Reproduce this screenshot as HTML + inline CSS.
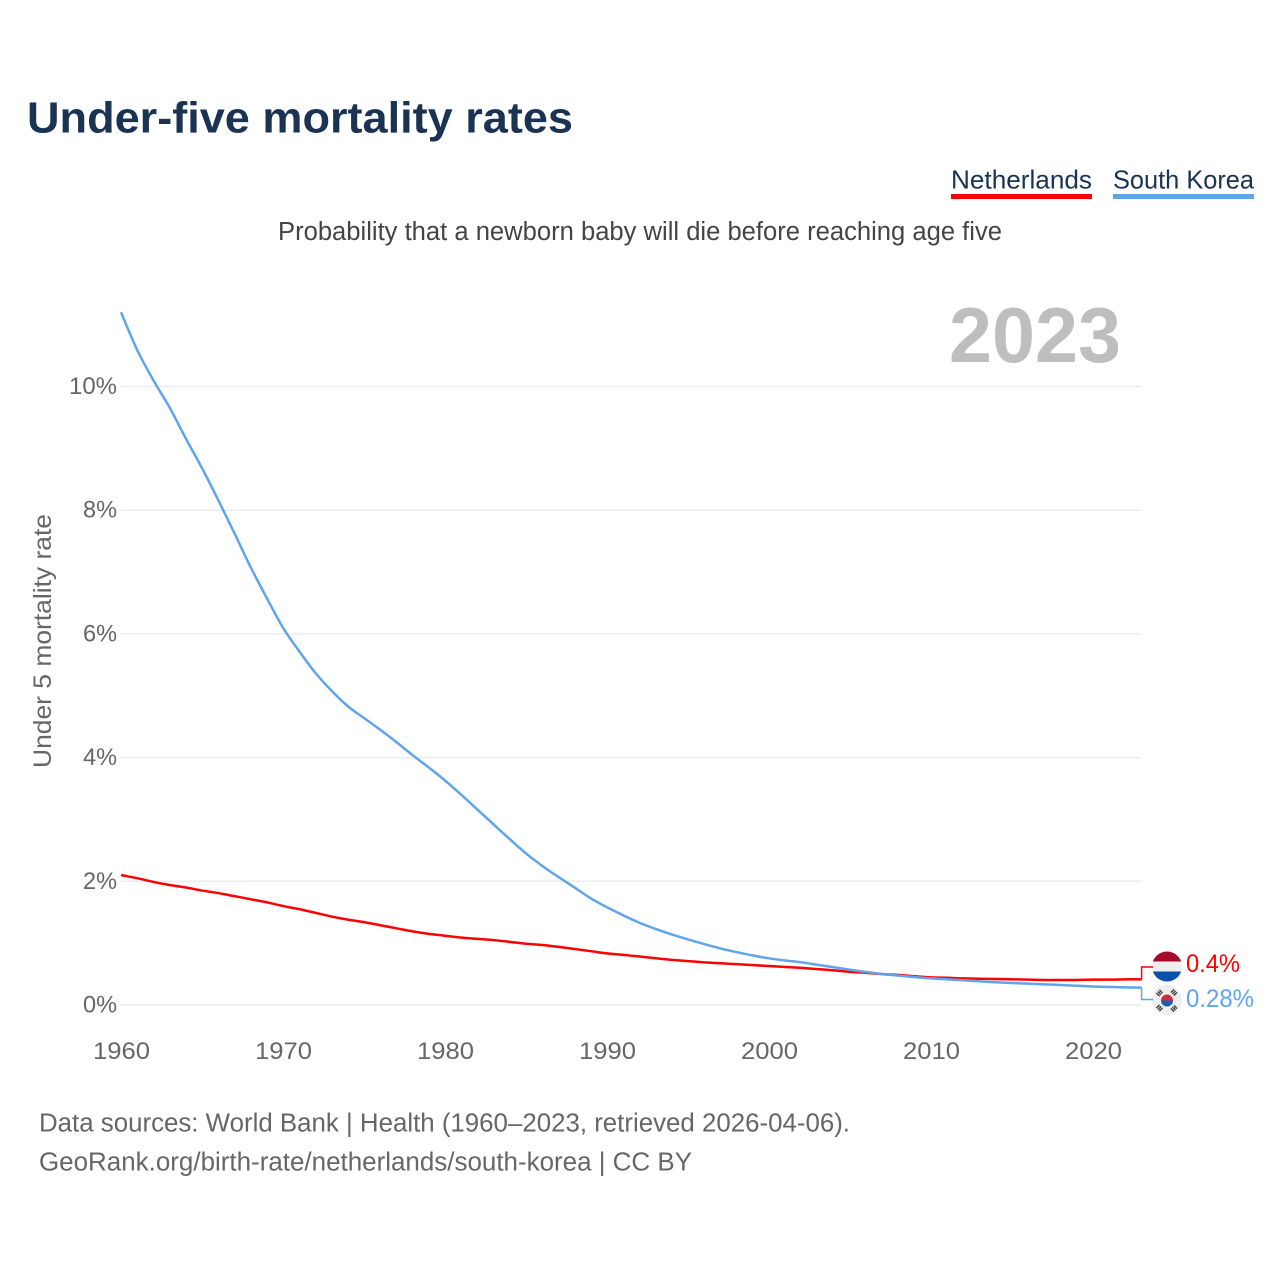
<!DOCTYPE html>
<html lang="en">
<head>
<meta charset="utf-8">
<title>Under-five mortality rates</title>
<style>
html,body{margin:0;padding:0;background:#fff;width:1280px;height:1280px;overflow:hidden}
svg{display:block;font-family:"Liberation Sans",sans-serif}
</style>
</head>
<body>
<svg id="chart" xmlns="http://www.w3.org/2000/svg" width="1280" height="1280" viewBox="0 0 1280 1280">
  <defs>
    <clipPath id="clip-nl"><circle cx="1167" cy="966.5" r="15"/></clipPath>
    <clipPath id="clip-kr"><circle cx="1167" cy="1000" r="15"/></clipPath>
  </defs>
  <rect x="0" y="0" width="1280" height="1280" fill="#fff"/>
  <text x="27" y="132.5" font-size="44" font-weight="700" fill="#1a3353" textLength="546" lengthAdjust="spacingAndGlyphs">Under-five mortality rates</text>

  <g>
    <g>
      <text x="951" y="188.5" font-size="26" fill="#1a3353" textLength="141" lengthAdjust="spacingAndGlyphs">Netherlands</text>
      <rect x="951" y="194" width="141" height="5" fill="#ff0000"/>
    </g>
    <g>
      <text x="1113" y="188.5" font-size="26" fill="#1a3353" textLength="141" lengthAdjust="spacingAndGlyphs">South Korea</text>
      <rect x="1113" y="194" width="141" height="5" fill="#60a5ec"/>
    </g>
  </g>

  <text x="278" y="240" font-size="25.5" fill="#444" textLength="724" lengthAdjust="spacingAndGlyphs">Probability that a newborn baby will die before reaching age five</text>
  <text x="949" y="362" font-size="78" font-weight="700" fill="#bebebe" textLength="172" lengthAdjust="spacingAndGlyphs">2023</text>
  <text transform="translate(51,768) rotate(-90)" x="0" y="0" font-size="25" fill="#666" textLength="254" lengthAdjust="spacingAndGlyphs">Under 5 mortality rate</text>

  <g id="grid"></g>
  <g id="y-ticks"></g>
  <g id="x-ticks"></g>
  <g id="lines"></g>

  <g clip-path="url(#clip-nl)">
    <rect x="1150" y="950" width="34" height="11.5" fill="#a50a2a"/>
    <rect x="1150" y="961.5" width="34" height="10" fill="#eeeeee"/>
    <rect x="1150" y="971.5" width="34" height="12" fill="#0b4fae"/>
  </g>
  <g clip-path="url(#clip-kr)">
    <rect x="1150" y="983" width="34" height="34" fill="#eeeeee"/>
    <path d="M1161 1000.5a6 6 0 0 1 12 0z" fill="#cd2e3a"/>
    <path d="M1161 1000.5a6 6 0 0 0 12 0z" fill="#1f5fae"/>
    <g stroke="#333" stroke-width="4.5" stroke-dasharray="1.3 0.8" fill="none">
      <path d="M1157.5 995l4.5-4.5"/>
      <path d="M1172 990.5l4.5 4.5"/>
      <path d="M1157.5 1006l4.5 4.5"/>
      <path d="M1172 1010.5l4.5-4.5"/>
    </g>
  </g>

  <g id="end-labels"></g>

  <g>
    <text x="39" y="1131.5" font-size="25.5" fill="#666" textLength="811" lengthAdjust="spacingAndGlyphs">Data sources: World Bank | Health (1960–2023, retrieved 2026-04-06).</text>
    <text x="39" y="1170.5" font-size="25.5" fill="#666" textLength="653" lengthAdjust="spacingAndGlyphs">GeoRank.org/birth-rate/netherlands/south-korea | CC BY</text>
  </g>
</svg>
<script>
const startYear = 1960;
const xTickYears = [1960, 1970, 1980, 1990, 2000, 2010, 2020];
const yTickValues = [0, 2, 4, 6, 8, 10];
const netherlandsValues = [2.10,2.05,1.99,1.94,1.90,1.85,1.81,1.76,1.71,1.66,1.60,1.55,1.49,1.43,1.38,1.34,1.29,1.24,1.19,1.15,1.12,1.09,1.07,1.05,1.02,0.99,0.97,0.94,0.905,0.87,0.835,0.81,0.785,0.755,0.73,0.71,0.69,0.675,0.66,0.645,0.63,0.615,0.60,0.58,0.56,0.535,0.52,0.50,0.485,0.465,0.447,0.44,0.43,0.425,0.42,0.415,0.41,0.405,0.405,0.405,0.41,0.41,0.415,0.415];
const southKoreaValues = [11.2,10.59,10.1,9.66,9.16,8.68,8.165,7.63,7.08,6.58,6.10,5.72,5.37,5.08,4.83,4.64,4.45,4.25,4.04,3.84,3.63,3.40,3.16,2.92,2.68,2.45,2.25,2.07,1.90,1.725,1.58,1.45,1.33,1.23,1.14,1.06,0.985,0.915,0.855,0.80,0.755,0.72,0.69,0.65,0.61,0.57,0.534,0.50,0.475,0.45,0.43,0.415,0.40,0.383,0.367,0.356,0.345,0.334,0.323,0.311,0.30,0.292,0.285,0.28];
const netherlandsLabel = "0.4%";
const southKoreaLabel = "0.28%";

const NS = "http://www.w3.org/2000/svg";
const xScale = function (year) { return 121 + (year - 1960) * 16.2; };
const yScale = function (value) { return 1005 - value * 61.85; };
const lastX = xScale(startYear + netherlandsValues.length - 1);

function make(tag, parent, attrs, text) {
  const el = document.createElementNS(NS, tag);
  Object.keys(attrs).forEach(function (k) { el.setAttribute(k, attrs[k]); });
  if (text !== undefined) el.textContent = text;
  parent.appendChild(el);
  return el;
}

const gridGroup = document.getElementById("grid");
const yGroup = document.getElementById("y-ticks");
yTickValues.forEach(function (v) {
  const line = make("line", gridGroup, { x1: 121, x2: 1141.5, y1: yScale(v), y2: yScale(v), stroke: "#ececec", "stroke-width": 1.5 });
  
  
  const label = make("text", yGroup, { x: v >= 10 ? 69 : 83, y: yScale(v) + 7.5, "font-size": 24, fill: "#666", textLength: v >= 10 ? 48 : 34, lengthAdjust: "spacingAndGlyphs" }, v + "%");
  
  
});

const xGroup = document.getElementById("x-ticks");
xTickYears.forEach(function (year) {
  const label = make("text", xGroup, { x: xScale(year) - 28, y: 1059, "font-size": 24.5, fill: "#666", textLength: 57, lengthAdjust: "spacingAndGlyphs" }, String(year));
  
  
});

function pathFor(values) {
  const pts = values.map(function (v, i) { return [xScale(startYear + i), yScale(v)]; });
  let d = "M" + pts[0][0].toFixed(2) + " " + pts[0][1].toFixed(2);
  for (let i = 0; i < pts.length - 1; i++) {
    const p0 = pts[Math.max(i - 1, 0)];
    const p1 = pts[i];
    const p2 = pts[i + 1];
    const p3 = pts[Math.min(i + 2, pts.length - 1)];
    d += "C" + (p1[0] + (p2[0] - p0[0]) / 6).toFixed(2) + " " + (p1[1] + (p2[1] - p0[1]) / 6).toFixed(2) +
         " " + (p2[0] - (p3[0] - p1[0]) / 6).toFixed(2) + " " + (p2[1] - (p3[1] - p1[1]) / 6).toFixed(2) +
         " " + p2[0].toFixed(2) + " " + p2[1].toFixed(2);
  }
  return d;
}

const lineGroup = document.getElementById("lines");
const nlLine = make("path", lineGroup, { d: pathFor(netherlandsValues), fill: "none", stroke: "#ff0000", "stroke-width": 2.5, "stroke-linejoin": "round" });


const koreaLine = make("path", lineGroup, { d: pathFor(southKoreaValues), fill: "none", stroke: "#60a5ec", "stroke-width": 2.5, "stroke-linejoin": "round" });



const endGroup = document.getElementById("end-labels");
const nlY = yScale(netherlandsValues[netherlandsValues.length - 1]);
const krY = yScale(southKoreaValues[southKoreaValues.length - 1]);
const nlLink = make("path", endGroup, { d: "M" + lastX + " " + nlY + "V967H1153", fill: "none", stroke: "#ff0000", "stroke-width": 1.5 });


const krLink = make("path", endGroup, { d: "M" + lastX + " " + krY + "V999.5H1153", fill: "none", stroke: "#60a5ec", "stroke-width": 1.5 });


const nlText = make("text", endGroup, { x: 1186, y: 972, "font-size": 25, fill: "#ff0000", textLength: 54, lengthAdjust: "spacingAndGlyphs" }, netherlandsLabel);


const krText = make("text", endGroup, { x: 1186, y: 1007, "font-size": 25, fill: "#60a5ec", textLength: 68, lengthAdjust: "spacingAndGlyphs" }, southKoreaLabel);


</script>
</body>
</html>
